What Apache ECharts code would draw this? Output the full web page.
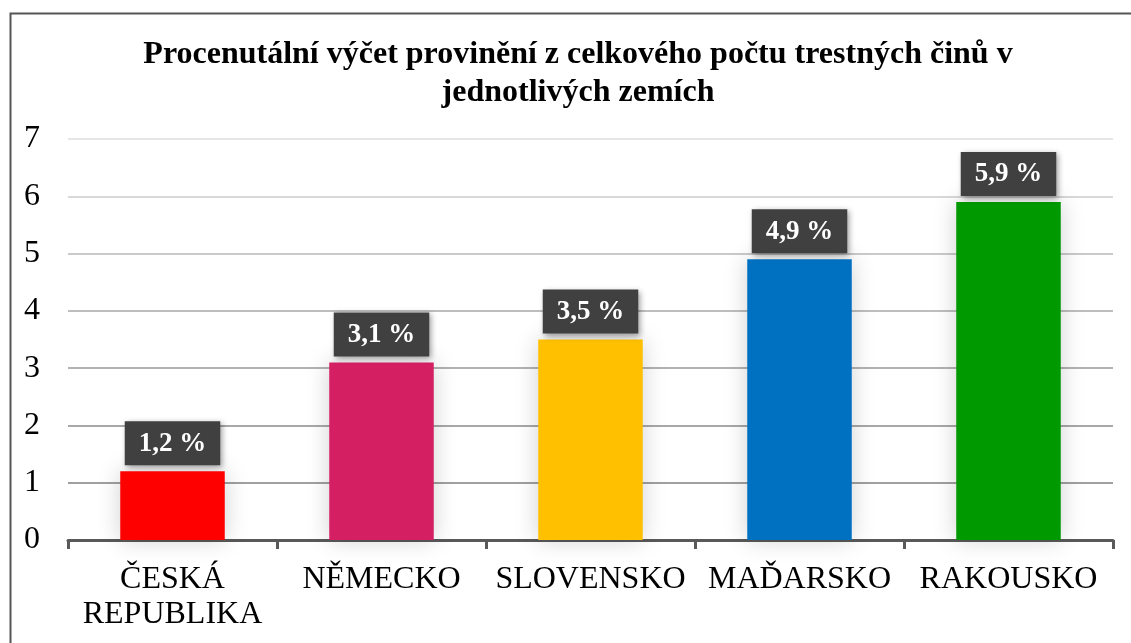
<!DOCTYPE html>
<html>
<head>
<meta charset="utf-8">
<script src="https://cdn.jsdelivr.net/npm/echarts@6/dist/echarts.min.js"></script>
<style>html,body{margin:0;padding:0;background:#fff}#c{width:1131px;height:643px}</style>
</head>
<body>
<div id="c"></div>
<script>
const titleText = 'Procenutální výčet provinění z celkového počtu trestných činů v\njednotlivých zemích';
const categories = ['ČESKÁ REPUBLIKA', 'NĚMECKO', 'SLOVENSKO', 'MAĎARSKO', 'RAKOUSKO'];
const values = [1.2, 3.1, 3.5, 4.9, 5.9];
const barColors = ['#ff0000', '#d41f63', '#ffc000', '#0070c0', '#009900'];
const yTicks = [0, 1, 2, 3, 4, 5, 6, 7];

const serif = '"Liberation Serif", "Times New Roman", serif';
const chart = echarts.init(document.getElementById('c'), null, {renderer: 'canvas'});
chart.setOption({
  animation: false,
  backgroundColor: '#fff',
  graphic: [{
    type: 'rect', left: 8, top: 11, shape: {width: 1200, height: 700},
    style: {fill: 'none', stroke: '#555', lineWidth: 2}, silent: true, z: 100
  }],
  title: {
    text: titleText, left: 573, top: 31, textAlign: 'center',
    textStyle: {fontFamily: serif, fontSize: 32, fontWeight: 'bold', color: '#000', lineHeight: 38}
  },
  grid: {left: 68, right: 18, top: 139, bottom: 103, containLabel: false},
  xAxis: {
    type: 'category', data: categories,
    axisLine: {lineStyle: {color: '#595959', width: 3}},
    axisTick: {show: true, length: 9, interval: 0, lineStyle: {color: '#595959', width: 3}},
    axisLabel: {
      interval: 0, margin: 22, fontFamily: serif, fontSize: 32, color: '#000', lineHeight: 35,
      formatter: v => v.replace(' ', '\n')
    }
  },
  yAxis: {
    type: 'value', min: yTicks[0], max: yTicks[yTicks.length - 1], interval: 1,
    axisLine: {show: false}, axisTick: {show: false},
    axisLabel: {margin: 28, fontFamily: serif, fontSize: 32, color: '#000'},
    splitLine: {lineStyle: {width: 2, color: ['#a0a0a0', '#a0a0a0', '#a8a8a8', '#b2b2b2', '#bebebe', '#cacaca', '#d8d8d8', '#e6e6e6']}}
  },
  series: [{
    type: 'bar', barWidth: '50%',
    data: values.map((v, i) => ({value: v, itemStyle: {color: barColors[i]}})),
    itemStyle: {shadowBlur: 22, shadowColor: 'rgba(0,0,0,0.18)'},
    label: {
      show: true, position: 'top', distance: 6,
      formatter: p => String(p.value).replace('.', ',') + ' %',
      fontFamily: serif, fontSize: 27, fontWeight: 'bold', color: '#fff', lineHeight: 27,
      backgroundColor: '#404040', padding: [9, 14, 8, 14],
      shadowBlur: 6, shadowColor: 'rgba(0,0,0,0.4)', shadowOffsetX: 2, shadowOffsetY: 2
    }
  }]
});
</script>
</body>
</html>
